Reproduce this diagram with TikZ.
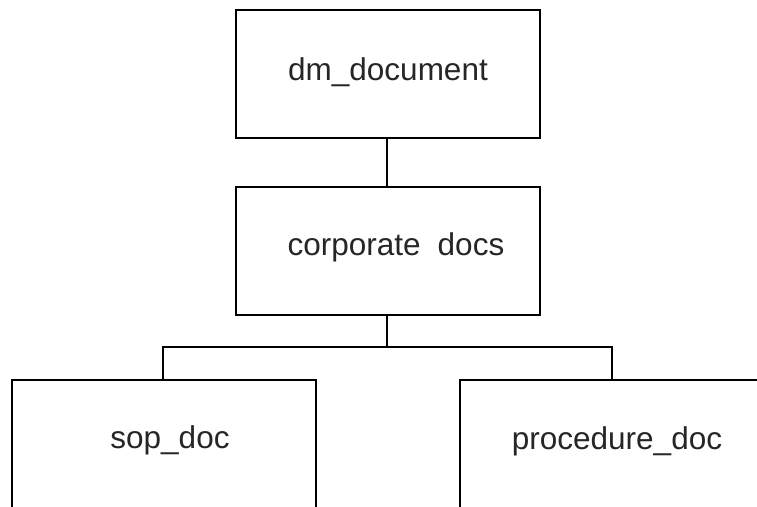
\documentclass[tikz,border=0pt]{standalone}
\usepackage{fontspec}
\setmainfont{Liberation Sans}
\begin{document}
\begin{tikzpicture}[x=1pt,y=-1pt,
  boxstyle/.style={draw=black,line width=1.6pt,fill=white,inner sep=0pt,anchor=north west},
  lbl/.style={font=\fontsize{31.5}{36}\selectfont,text=black!85,inner sep=0pt},
  wire/.style={draw=black,line width=1.6pt}]
\useasboundingbox (0,0) rectangle (757,506);
\clip (0,0) rectangle (757,506);
\fill[white] (0,0) rectangle (757,506);
\node[boxstyle,minimum width=304pt,minimum height=128pt] (dm) at (235,9) {};
\node[boxstyle,minimum width=304pt,minimum height=128pt] (corp) at (235,186) {};
\node[boxstyle,minimum width=304pt,minimum height=140pt] (sop) at (11,379) {};
\node[boxstyle,minimum width=310pt,minimum height=140pt] (proc) at (459,379) {};
\node[lbl] (tdm) at (388,72) {dm\_document};
\node[lbl] (tcorp) at (396,247) {corporate\hspace{17pt}docs};
\node[lbl] (tsop) at (170,440) {sop\_doc};
\node[lbl] (tproc) at (617,441) {procedure\_doc};
\coordinate (cdm) at (387,137);
\coordinate (ccorpT) at (387,186);
\coordinate (ccorpB) at (387,314);
\coordinate (split) at (387,347);
\coordinate (lsplit) at (163,347);
\coordinate (rsplit) at (612,347);
\coordinate (lsop) at (163,379);
\coordinate (rproc) at (612,379);
\draw[wire] (cdm) -- (ccorpT);
\draw[wire] (ccorpB) -- (split);
\draw[wire] (lsop) -- (lsplit) -- (rsplit) -- (rproc);
\end{tikzpicture}
\end{document}
